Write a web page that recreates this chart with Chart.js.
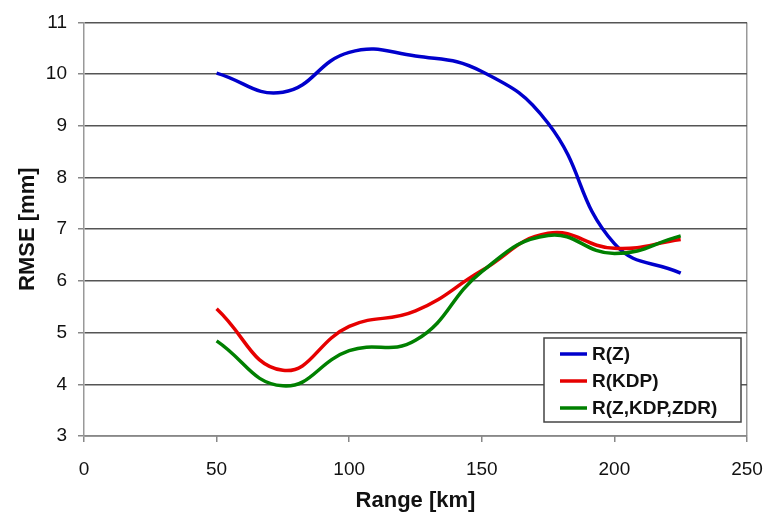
<!DOCTYPE html>
<html>
<head>
<meta charset="utf-8">
<script src="https://cdn.jsdelivr.net/npm/chart.js@4"></script>
<style>
    html, body { margin: 0; padding: 0; background: #fff; }
    #wrap { width: 775px; height: 514px; }
</style>
</head>
<body>
<div id="wrap"><canvas id="chart"></canvas></div>
<script>
const ranges = [50, 75, 100, 125, 150, 175, 200, 225];
const rZ = [10.02, 9.65, 10.42, 10.35, 10.05, 9.05, 6.72, 6.15];
const rKdp = [5.46, 4.27, 5.12, 5.42, 6.2, 6.92, 6.63, 6.8];
const rZKdpZdr = [4.84, 3.97, 4.65, 4.85, 6.18, 6.88, 6.53, 6.87];
const xTicks = [0, 50, 100, 150, 200, 250];
const yTicks = [3, 4, 5, 6, 7, 8, 9, 10, 11];

const font = "'Liberation Sans', Arial, sans-serif";

function pts(vals) {
    return ranges.map((r, i) => ({ x: r, y: vals[i] }));
}

// legend box drawn inside the plot area, bottom right
const boxLegend = {
    id: 'boxLegend',
    afterDraw(chart) {
        const { ctx, chartArea } = chart;
        const x = chartArea.right - 203;
        const y = chartArea.bottom - 98;
        const w = 197, h = 84;
        ctx.save();
        ctx.fillStyle = '#fff';
        ctx.fillRect(x, y, w, h);
        ctx.strokeStyle = '#444';
        ctx.lineWidth = 1.5;
        ctx.strokeRect(x, y, w, h);
        ctx.font = `bold 19px ${font}`;
        ctx.textBaseline = 'middle';
        chart.data.datasets.forEach((ds, i) => {
            const cy = y + 16 + i * 27;
            ctx.strokeStyle = ds.borderColor;
            ctx.lineWidth = 3.5;
            ctx.beginPath();
            ctx.moveTo(x + 16, cy);
            ctx.lineTo(x + 43, cy);
            ctx.stroke();
            ctx.fillStyle = '#111';
            ctx.fillText(ds.label, x + 48, cy + 1);
        });
        ctx.restore();
    }
};

new Chart(document.getElementById('chart'), {
    type: 'line',
    data: {
        datasets: [
            { label: 'R(Z)', data: pts(rZ), borderColor: '#0000cc', order: 2 },
            { label: 'R(KDP)', data: pts(rKdp), borderColor: '#e60000', order: 1 },
            { label: 'R(Z,KDP,ZDR)', data: pts(rZKdpZdr), borderColor: '#008000', order: 0 }
        ]
    },
    options: {
        responsive: true,
        maintainAspectRatio: false,
        animation: false,
        layout: { padding: { top: 19, right: 28, left: 8, bottom: 0 } },
        elements: {
            line: { borderWidth: 3.5, tension: 0.45, fill: false },
            point: { radius: 0 }
        },
        plugins: {
            legend: { display: false },
            tooltip: { enabled: false }
        },
        scales: {
            x: {
                type: 'linear',
                min: 0,
                max: 250,
                afterBuildTicks: s => { s.ticks = xTicks.map(v => ({ value: v })); },
                afterFit: s => { s.height = 78; s.paddingRight = 0; s.paddingLeft = 0; },
                grid: {
                    color: c => (c.tick && c.tick.value === 250) ? '#999' : 'rgba(0,0,0,0)',
                    tickColor: '#888',
                    tickLength: 6,
                    lineWidth: 1.5
                },
                border: { color: '#888', width: 1.5 },
                ticks: { color: '#111', padding: 16, font: { family: font, size: 19 } },
                title: {
                    display: true,
                    text: 'Range [km]',
                    color: '#111',
                    padding: { top: 0, bottom: 0 },
                    font: { family: font, size: 22, weight: 'bold' }
                }
            },
            y: {
                min: 3,
                max: 11,
                afterBuildTicks: s => { s.ticks = yTicks.map(v => ({ value: v })); },
                afterFit: s => { s.width = 76; },
                grid: { color: '#555', tickColor: '#888', tickLength: 6, lineWidth: 1.5 },
                border: { color: '#999', width: 1.5 },
                ticks: { color: '#111', padding: 11, font: { family: font, size: 19 } },
                title: {
                    display: true,
                    text: 'RMSE [mm]',
                    color: '#111',
                    padding: { top: 7, bottom: 0 },
                    font: { family: font, size: 22, weight: 'bold' }
                }
            }
        }
    },
    plugins: [boxLegend]
});
</script>
</body>
</html>
